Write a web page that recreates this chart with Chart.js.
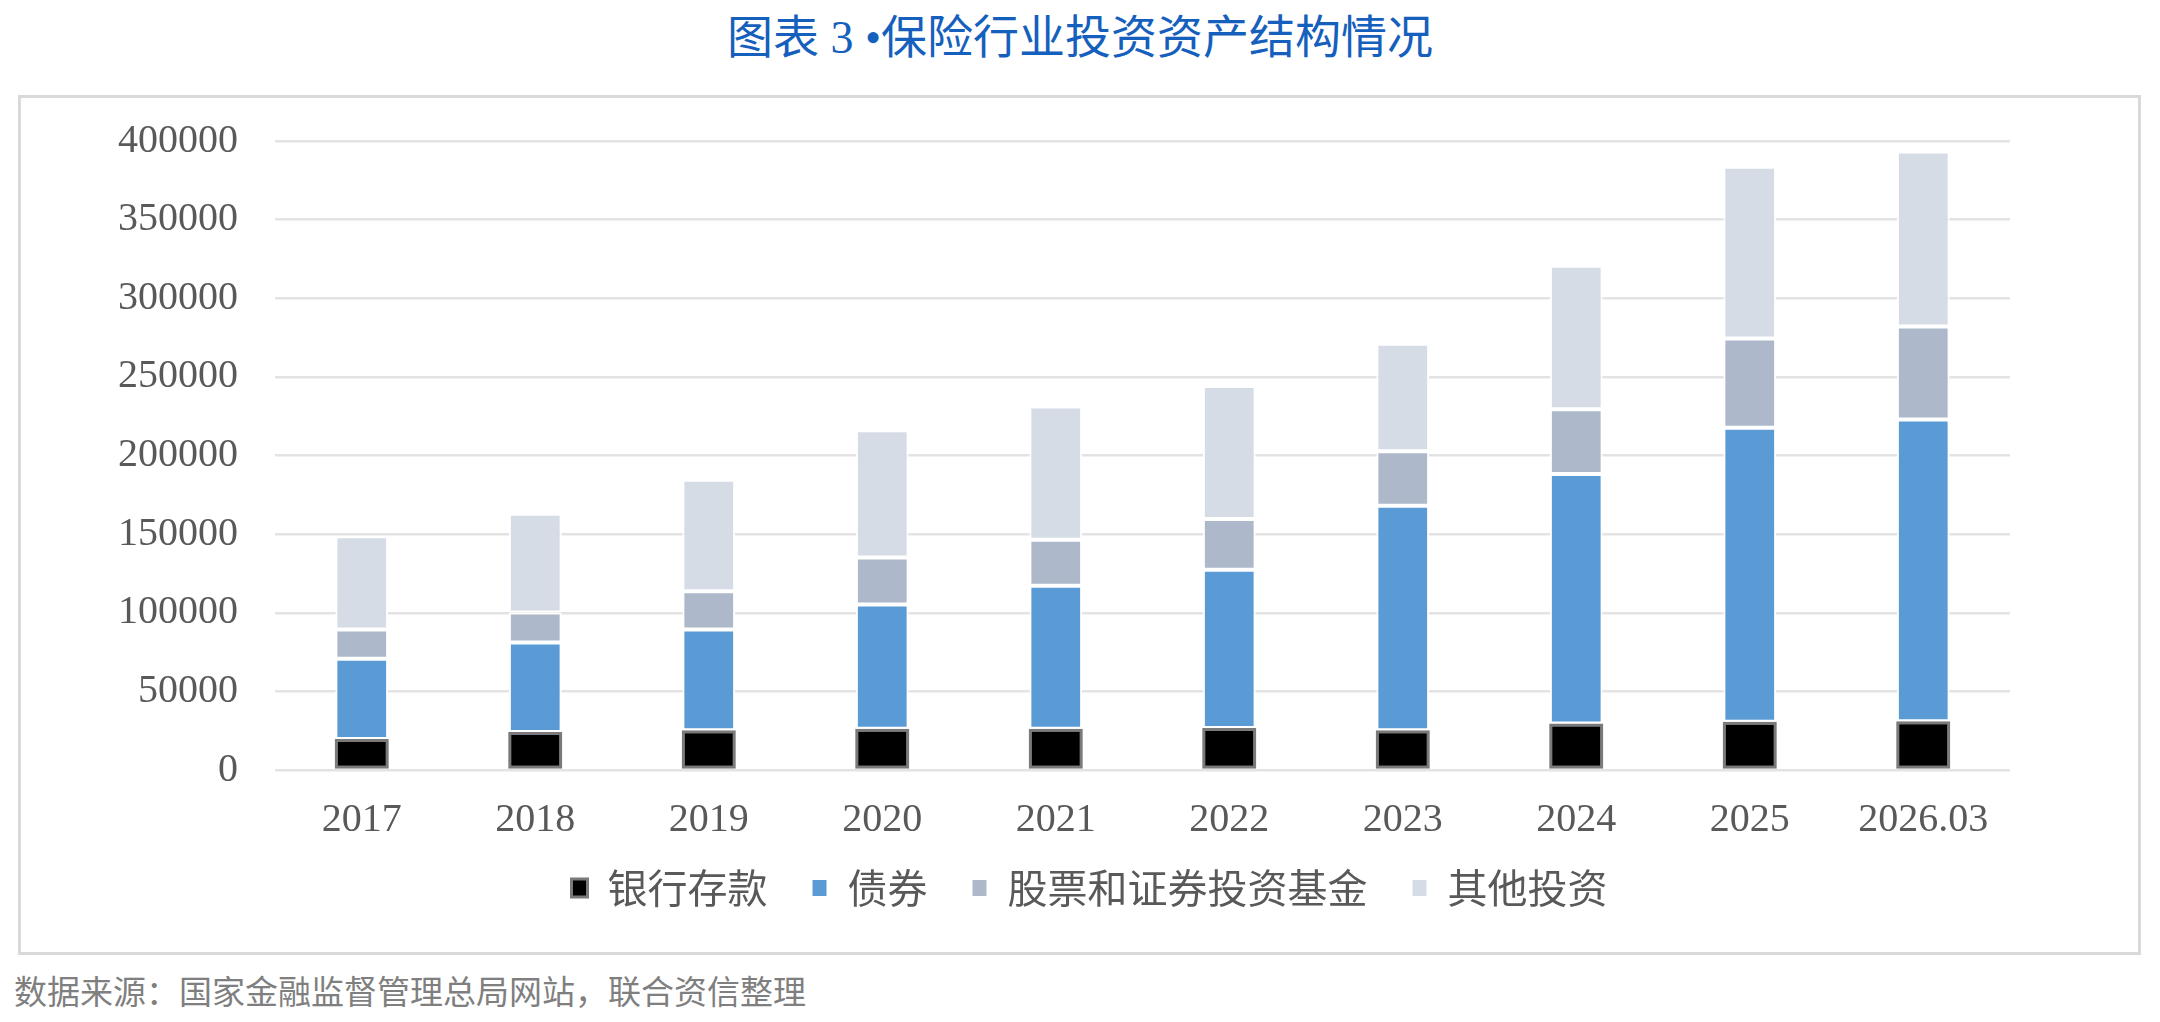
<!DOCTYPE html>
<html lang="zh">
<head>
    <meta charset="UTF-8">
    <title>保险行业投资资产结构情况</title>
    <script src="https://cdn.jsdelivr.net/npm/chart.js"></script>
    <style>
        body { margin: 0; background: #fff; width: 2160px; height: 1022px; position: relative; overflow: hidden; }
        #title { position: absolute; left: 0; top: 0; width: 2160px; text-align: center;
                 font-family: "Liberation Serif", "Noto Sans CJK SC", serif; font-size: 46px; color: #1560BD; }
        #box { position: absolute; left: 18px; top: 95px; width: 2117px; height: 854px; border: 3px solid #d9d9d9; }
        #source { position: absolute; left: 14px; top: 966px; font-family: "Liberation Serif", "Noto Sans CJK SC", serif;
                  font-size: 33px; color: #7f7f7f; }
    </style>
</head>
<body>
    <div id="title">图表 3 •保险行业投资资产结构情况</div>
    <div id="box"><canvas id="assetChart" width="2117" height="854"></canvas></div>
    <div id="source">数据来源：国家金融监督管理总局网站，联合资信整理</div>

    <script>
        // categories and series (亿元)
        var years = ['2017', '2018', '2019', '2020', '2021', '2022', '2023', '2024', '2025', '2026.03'];
        var deposits = [19650, 24200, 25350, 26180, 26180, 26750, 25350, 29620, 30760, 30950];
        var bonds = [51170, 56880, 63940, 79030, 91010, 100630, 142730, 158650, 186810, 191970];
        var stocksFunds = [18470, 19040, 24460, 29880, 29300, 32160, 34680, 41200, 56840, 59160];
        var others = [59410, 62830, 70820, 81010, 84700, 84710, 68240, 91270, 109190, 111210];
        var yTicks = [0, 50000, 100000, 150000, 200000, 250000, 300000, 350000, 400000];

        var latin = '"Liberation Serif", "Noto Sans CJK SC", serif';

        var data = {
            labels: years,
            datasets: [{
                label: '银行存款',
                data: deposits,
                backgroundColor: '#000000',
                borderColor: '#7a7a7a',
                borderWidth: 3,
                borderSkipped: false,
                barPercentage: 0.39
            }, {
                label: '债券',
                data: bonds,
                backgroundColor: '#5B9BD5',
                borderColor: '#ffffff',
                borderWidth: 2,
                borderSkipped: false,
                barPercentage: 0.38
            }, {
                label: '股票和证券投资基金',
                data: stocksFunds,
                backgroundColor: '#ADB9CA',
                borderColor: '#ffffff',
                borderWidth: 2,
                borderSkipped: false,
                barPercentage: 0.38
            }, {
                label: '其他投资',
                data: others,
                backgroundColor: '#D6DCE5',
                borderColor: '#ffffff',
                borderWidth: 2,
                borderSkipped: false,
                barPercentage: 0.38
            }]
        };

        // legend keeps wide gaps between items but sits closer to the axis labels
        var legendNudge = {
            id: 'legendNudge',
            afterUpdate: function (chart) {
                var lg = chart.legend;
                lg.top -= 46; lg.bottom -= 46;
                lg.left += 74; lg.right += 74;
            }
        };

        var options = {
            responsive: false,
            animation: false,
            layout: { padding: { left: 0, right: 128, top: 43, bottom: -12 } },
            plugins: {
                legend: {
                    position: 'bottom',
                    labels: {
                        boxWidth: 16,
                        boxHeight: 18,
                        padding: 44,
                        color: '#595959',
                        font: { family: '"Noto Sans CJK SC", sans-serif', size: 40 }
                    }
                },
                tooltip: { enabled: false }
            },
            scales: {
                x: {
                    stacked: true,
                    grid: { display: false, drawTicks: false },
                    border: { display: false },
                    ticks: { color: '#595959', padding: 26, font: { family: latin, size: 40 } }
                },
                y: {
                    stacked: true,
                    min: 0,
                    max: 400000,
                    afterBuildTicks: function (scale) {
                        scale.ticks = yTicks.map(function (v) { return { value: v }; });
                    },
                    grid: { color: '#e3e3e3', lineWidth: 2.5, drawTicks: false },
                    border: { display: false },
                    ticks: {
                        color: '#595959', padding: 37, font: { family: latin, size: 40 },
                        callback: function (v) { return String(v); }
                    },
                    afterFit: function (scale) {
                        scale.width = 254;
                        scale.paddingTop = 0;
                        scale.paddingBottom = 0;
                    }
                }
            }
        };

        var ctx = document.getElementById('assetChart').getContext('2d');
        var assetChart = new Chart(ctx, {
            type: 'bar',
            data: data,
            options: options,
            plugins: [legendNudge]
        });
    </script>
</body>
</html>
